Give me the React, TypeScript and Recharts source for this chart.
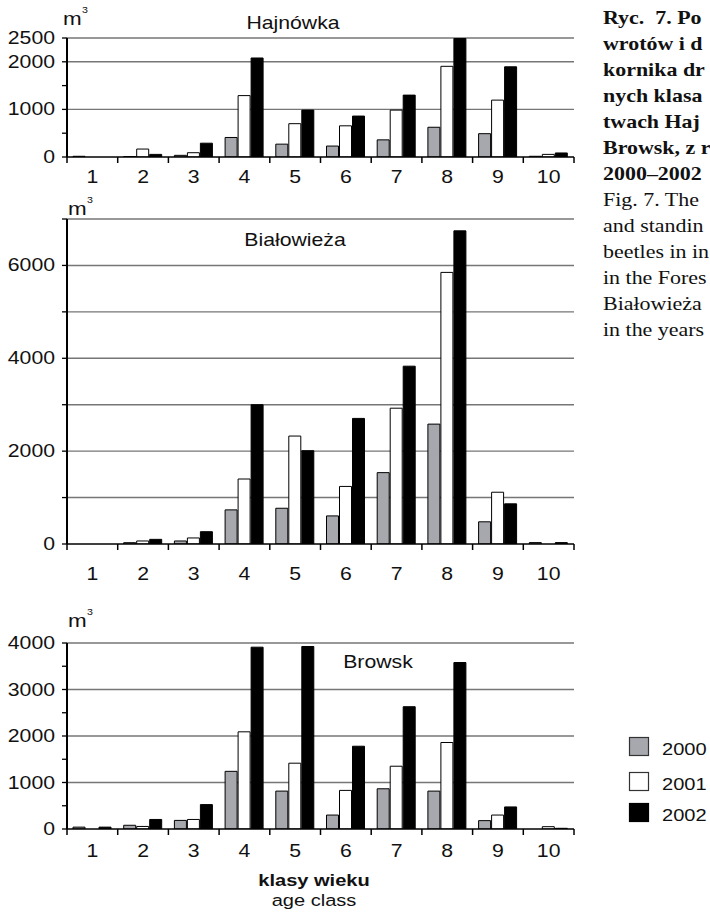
import { BarChart, Bar, XAxis, YAxis, CartesianGrid } from 'recharts';

// age classes on the x axis
const ageClasses = ['1', '2', '3', '4', '5', '6', '7', '8', '9', '10'];
const years = ['2000', '2001', '2002'];

// Hajnówka, m3
const hajnowka2000 = [15, 10, 35, 410, 270, 230, 360, 625, 490, 15];
const hajnowka2001 = [0, 167, 90, 1290, 700, 655, 985, 1905, 1195, 55];
const hajnowka2002 = [0, 55, 290, 2080, 985, 860, 1300, 2490, 1895, 85];

// Białowieża, m3
const bialowieza2000 = [0, 28, 65, 735, 770, 605, 1537, 2582, 478, 30];
const bialowieza2001 = [0, 65, 130, 1400, 2325, 1240, 2925, 5850, 1115, 0];
const bialowieza2002 = [0, 100, 265, 3000, 2010, 2705, 3830, 6745, 865, 30];

// Browsk, m3
const browsk2000 = [40, 80, 185, 1240, 815, 300, 865, 815, 180, 0];
const browsk2001 = [0, 55, 205, 2090, 1415, 830, 1350, 1860, 300, 50];
const browsk2002 = [40, 205, 525, 3910, 3925, 1780, 2630, 3580, 475, 15];

// y axis: tick marks, labelled ticks, grid lines
const hajnowkaTicks = [0, 500, 1000, 1500, 2000, 2500];
const hajnowkaLabels = [0, 1000, 2000, 2500];
const hajnowkaGrid = [1000, 2000, 2500];

const bialowiezaTicks = [0, 1000, 2000, 3000, 4000, 5000, 6000, 7000];
const bialowiezaLabels = [0, 2000, 4000, 6000];
const bialowiezaGrid = [1000, 2000, 3000, 4000, 5000, 6000, 7000];

const browskTicks = [0, 500, 1000, 1500, 2000, 2500, 3000, 3500, 4000];
const browskLabels = [0, 1000, 2000, 3000, 4000];
const browskGrid = [1000, 2000, 3000, 4000];

// caption, as much of it as the crop shows
const captionPl = [
  'Ryc.  7. Po',
  'wrotów i d',
  'kornika dr',
  'nych klasa',
  'twach Haj',
  'Browsk, z r',
  '2000–2002',
];
const captionEn = [
  'Fig. 7. The',
  'and standin',
  'beetles in in',
  'in the Fores',
  'Białowieża',
  'in the years',
];

const yearFills = ['#a6a8ad', '#ffffff', '#000000'];

const makeRows = (a: number[], b: number[], c: number[]) =>
  ageClasses.map((age, i) => ({ age, '2000': a[i], '2001': b[i], '2002': c[i] }));

const SX = 1.18; // the scan is stretched sideways
const SANS = '"Liberation Sans", Arial, sans-serif';
const SERIF = '"Liberation Serif", "Times New Roman", serif';
const PLOT_LEFT = 67;
const PLOT_RIGHT = 574;
const BAND = (PLOT_RIGHT - PLOT_LEFT) / ageClasses.length;

const WideText = ({ x, y, size = 18, anchor = 'middle', weight = 'normal', family = SANS, sx = SX, children }: any) => (
  <text
    transform={`translate(${x},${y}) scale(${sx},1)`}
    textAnchor={anchor}
    fontSize={size}
    fontFamily={family}
    fontWeight={weight}
    fill="#111"
    style={{ whiteSpace: 'pre' }}
  >
    {children}
  </text>
);

const AgeTick = ({ x, y, payload, index, dy }: any) => (
  <g>
    <line x1={x - BAND / 2} x2={x - BAND / 2} y1={y} y2={y + 6} stroke="#000" strokeWidth={1.5} />
    {index === ageClasses.length - 1 && (
      <line x1={x + BAND / 2} x2={x + BAND / 2} y1={y} y2={y + 6} stroke="#000" strokeWidth={1.5} />
    )}
    <WideText x={x} y={y + dy}>{payload.value}</WideText>
  </g>
);

const ValueTick = ({ x, y, payload, labels }: any) =>
  labels.includes(payload.value) ? (
    <WideText x={x} y={y + 6} anchor="end">{payload.value}</WideText>
  ) : (
    <g />
  );

const Panel = ({ top, height, marginTop, axisHeight, labelDy, data, max, ticks, labels, grid }: any) => (
  <div style={{ position: 'absolute', left: 0, top }}>
    <BarChart
      width={600}
      height={height + 20}
      data={data}
      margin={{ top: marginTop, right: 600 - PLOT_RIGHT, bottom: 20, left: 0 }}
      barSize={12}
      barGap={1}
    >
      <CartesianGrid vertical={false} horizontalValues={grid} stroke="#767676" strokeWidth={1.4} />
      <XAxis
        dataKey="age"
        height={axisHeight}
        interval={0}
        tickLine={false}
        tickSize={0}
        tickMargin={0}
        axisLine={{ stroke: '#000', strokeWidth: 1.5 }}
        tick={(p: any) => <AgeTick {...p} dy={labelDy} />}
      />
      <YAxis
        domain={[0, max]}
        ticks={ticks}
        interval={0}
        width={PLOT_LEFT}
        tickSize={5}
        tickMargin={7}
        allowDataOverflow
        axisLine={{ stroke: '#000', strokeWidth: 2 }}
        tickLine={{ stroke: '#000', strokeWidth: 1.3 }}
        tick={(p: any) => <ValueTick {...p} labels={labels} />}
      />
      <YAxis
        yAxisId="frame"
        orientation="right"
        width={0}
        domain={[0, max]}
        tick={false}
        tickLine={false}
        axisLine={{ stroke: '#333', strokeWidth: 1.4 }}
      />
      {years.map((yr, i) => (
        <Bar key={yr} dataKey={yr} fill={yearFills[i]} stroke="#000" strokeWidth={1} isAnimationActive={false} />
      ))}
    </BarChart>
  </div>
);

const Unit = ({ x, y }: any) => (
  <g>
    <WideText x={x} y={y} size={19} anchor="start">m</WideText>
    <WideText x={x + 19} y={y - 12} size={9} anchor="start">3</WideText>
  </g>
);

export default function App() {
  return (
    <div style={{ position: 'absolute', left: 0, top: 0, width: 710, height: 914, overflow: 'hidden', background: '#fff' }}>
      <Panel
        top={0}
        height={187}
        marginTop={38}
        axisHeight={30}
        labelDy={26}
        data={makeRows(hajnowka2000, hajnowka2001, hajnowka2002)}
        max={2500}
        ticks={hajnowkaTicks}
        labels={hajnowkaLabels}
        grid={hajnowkaGrid}
      />
      <Panel
        top={190}
        height={389}
        marginTop={29}
        axisHeight={35}
        labelDy={36}
        data={makeRows(bialowieza2000, bialowieza2001, bialowieza2002)}
        max={7000}
        ticks={bialowiezaTicks}
        labels={bialowiezaLabels}
        grid={bialowiezaGrid}
      />
      <Panel
        top={600}
        height={259}
        marginTop={43}
        axisHeight={30}
        labelDy={28}
        data={makeRows(browsk2000, browsk2001, browsk2002)}
        max={4000}
        ticks={browskTicks}
        labels={browskLabels}
        grid={browskGrid}
      />
      <svg width={710} height={914} style={{ position: 'absolute', left: 0, top: 0, pointerEvents: 'none' }}>
        <WideText x={293} y={29}>Hajnówka</WideText>
        <WideText x={295} y={246}>Białowieża</WideText>
        <WideText x={378} y={668}>Browsk</WideText>
        <Unit x={63} y={25} />
        <Unit x={68} y={215} />
        <Unit x={68} y={627} />

        {years.map((yr, i) => (
          <g key={yr}>
            <rect
              x={629.5}
              y={[737.5, 772.5, 803.5][i]}
              width={19}
              height={18}
              fill={yearFills[i]}
              stroke={i === 2 ? '#000' : '#333'}
              strokeWidth={1.2}
            />
            <WideText x={662} y={[755, 790, 821][i]} size={17} anchor="start">{yr}</WideText>
          </g>
        ))}

        <WideText x={314} y={886} size={17} weight="bold">klasy wieku</WideText>
        <WideText x={314} y={906} size={17}>age class</WideText>

        {captionPl.map((line, i) => (
          <WideText key={line} x={603} y={24 + i * 26} size={18} sx={1.22} anchor="start" weight="bold" family={SERIF}>
            {line}
          </WideText>
        ))}
        {captionEn.map((line, i) => (
          <WideText key={line} x={603} y={24 + (i + 7) * 26} size={18} sx={1.22} anchor="start" family={SERIF}>
            {line}
          </WideText>
        ))}
      </svg>
    </div>
  );
}
